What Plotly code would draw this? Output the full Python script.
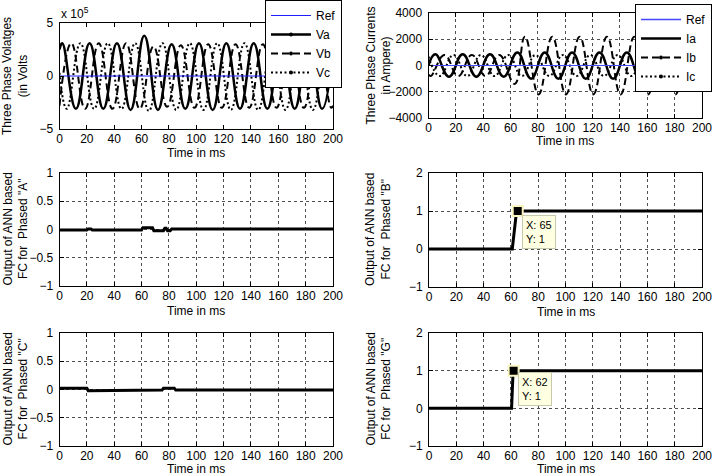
import plotly.graph_objects as go

W, H = 713, 475
FONT = "Liberation Sans, Arial, Helvetica, sans-serif"

# ---------------- data ----------------
TIME_TICKS = [0, 20, 40, 60, 80, 100, 120, 140, 160, 180, 200]
REF_T = [0, 200]
REF_V = [0, 0]

VOLT_SCALE = 1e5
# phase voltages: samples at the read peaks / troughs (ms, volts)
VA_T = [0, 2, 12, 22, 32, 42, 52, 62, 72, 82, 92, 102, 112, 122, 132, 142, 152, 162, 172, 182, 192, 200]
VA = [2.5e5, 3.1e5, -3.1e5, 3.1e5, -3.1e5, 3.1e5, -3.2e5, 3.8e5, -3.2e5, 3.0e5, -3.1e5, 3.1e5,
      -3.2e5, 3.1e5, -3.1e5, 3.1e5, -3.1e5, 3.1e5, -3.1e5, 3.1e5, -3.1e5, 2.5e5]
VB_T = [0, 8.7, 18.7, 28.7, 38.7, 48.7, 58.7, 68.7, 78.7, 88.7, 98.7, 108.7, 118.7, 128.7, 138.7,
        148.7, 158.7, 168.7, 178.7, 188.7, 198.7, 200]
VB = [-2.8e5, 3.1e5, -3.1e5, 3.1e5, -3.1e5, 3.1e5, -3.1e5, 2.8e5, -2.9e5, 2.9e5, -3.0e5, 3.0e5,
      -3.0e5, 3.0e5, -3.0e5, 3.0e5, -3.0e5, 3.0e5, -3.0e5, 3.0e5, -3.0e5, -2.8e5]
VC_T = [0, 5.3, 15.3, 25.3, 35.3, 45.3, 55.3, 65.3, 75.3, 85.3, 95.3, 105.3, 115.3, 125.3, 135.3,
        145.3, 155.3, 165.3, 175.3, 185.3, 195.3, 200]
VC = [0.3e5, -3.1e5, 3.1e5, -3.1e5, 3.1e5, -3.1e5, 3.1e5, -3.3e5, 3.1e5, -3.2e5, 3.1e5, -3.2e5,
      3.1e5, -3.2e5, 3.1e5, -3.2e5, 3.1e5, -3.2e5, 3.1e5, -3.2e5, 3.1e5, 0.3e5]

# phase currents (ms, ampere)
IA_T = [0, 5, 15, 25, 35, 45, 55, 65, 75, 85, 95, 105, 115, 125, 135, 145, 155, 165, 175, 185, 195, 200]
IA = [0, 850, -850, 850, -850, 850, -850, 1000, -1000, 1000, -1000, 1000, -1000, 1000, -1000,
      1000, -1000, 1000, -1000, 1000, -1000, 0]
IB_T = [0, 1.7, 11.7, 21.7, 31.7, 41.7, 51.7, 63, 70.5, 80.5, 90.5, 100.5, 110.5, 120.5, 130.5,
        140.5, 150.5, 160.5, 170.5, 180.5, 190.5, 200]
IB = [-690, -800, 800, -800, 800, -800, 800, -1400, 2200, -2200, 2200, -2200, 2200, -2200, 2200,
      -2200, 2200, -2200, 2200, -2200, 2200, -2150]
IC_T = [0, 8.3, 18.3, 28.3, 38.3, 48.3, 58.3, 68.3, 78.3, 88.3, 98.3, 108.3, 118.3, 128.3, 138.3,
        148.3, 158.3, 168.3, 178.3, 188.3, 198.3, 200]
IC = [690, -800, 800, -800, 800, -800, 800, -800, 800, -800, 800, -800, 800, -800, 800,
      -800, 800, -800, 800, -800, 800, 690]

# ANN fault-classifier outputs
FA_T = [0, 20, 21, 23, 24, 60, 61, 68, 69, 76, 77, 78, 79, 81, 82, 200]
FA = [-0.01, -0.01, 0.01, 0.01, -0.01, -0.01, 0.03, 0.03, -0.02, -0.02, 0.02, 0.02, -0.02, -0.02, 0.01, 0.01]
FB_T = [0, 61, 64, 65, 200]
FB = [0, 0, 0.95, 1, 1]
FC_T = [0, 20, 21, 23, 24, 75, 76, 84, 85, 200]
FC = [0.02, 0.02, -0.02, -0.02, -0.01, -0.01, 0.02, 0.02, -0.01, -0.01]
FG_T = [0, 60.5, 61.5, 62, 200]
FG = [0, 0, 0.9, 1, 1]

TIP_B = (65, 1)
TIP_G = (62, 1)

# ---------------- layout helpers ----------------
def px_x(p):
    return p / W

def px_y(p):
    return 1 - p / H

PANELS = {
    # name: (x0, x1, ytop, ybottom) in pixels
    "tl": (59.5, 333, 23, 129),
    "tr": (428.5, 702, 13, 118),
    "ml": (59.5, 333, 173, 286),
    "mr": (429, 702, 173, 287),
    "bl": (59.5, 333, 333, 446),
    "br": (429, 702, 333, 446),
}
ORDER = ["tl", "tr", "ml", "mr", "bl", "br"]
YRANGE = {"tl": [-5, 5], "tr": [-4000, 4000], "ml": [-1, 1], "mr": [-1, 2], "bl": [-1, 1], "br": [-1, 2]}
YTICKS = {"tl": [-5, 0, 5], "tr": [-4000, -2000, 0, 2000, 4000], "ml": [-1, -0.5, 0, 0.5, 1],
          "mr": [-1, 0, 1, 2], "bl": [-1, -0.5, 0, 0.5, 1], "br": [-1, 0, 1, 2]}
GRID = {"tl": False, "tr": True, "ml": True, "mr": True, "bl": True, "br": True}

fig = go.Figure()
layout = dict(width=W, height=H, margin=dict(l=0, r=0, t=0, b=0, autoexpand=False), autosize=False,
              paper_bgcolor="white", plot_bgcolor="white",
              font=dict(family=FONT, size=12, color="black"), showlegend=True)

axis_common = dict(showline=True, linecolor="black", linewidth=1, mirror="ticks",
                   ticks="inside", ticklen=4, tickcolor="black", zeroline=False,
                   tickfont=dict(family=FONT, size=12, color="black"),
                   gridcolor="rgb(80,80,80)", griddash="dot", gridwidth=1)

for i, name in enumerate(ORDER):
    k = "" if i == 0 else str(i + 1)
    x0, x1, yt, yb = PANELS[name]
    layout["xaxis" + k] = dict(axis_common, domain=[px_x(x0), px_x(x1)], range=[0, 200],
                               tickvals=TIME_TICKS, anchor="y" + k, showgrid=GRID[name],
                               ticklabelstandoff=-1)
    layout["yaxis" + k] = dict(axis_common, domain=[px_y(yb), px_y(yt)], range=YRANGE[name],
                               tickvals=YTICKS[name], anchor="x" + k, showgrid=GRID[name],
                               ticklabelstandoff=3)

AX = {name: ("x" if i == 0 else "x" + str(i + 1), "y" if i == 0 else "y" + str(i + 1))
      for i, name in enumerate(ORDER)}

REF_BLUE = "rgb(70,70,255)"
DASH = "7px,4px"
DOT = "2px,2.5px"

def add(name, t, v, **kw):
    xa, ya = AX[name]
    fig.add_trace(go.Scatter(x=t, y=v, xaxis=xa, yaxis=ya, mode="lines", showlegend=False,
                             hoverinfo="skip", **kw))

# voltages
add("tl", VA_T, [v / VOLT_SCALE for v in VA], line=dict(color="black", width=2.5, shape="spline", smoothing=1.3))
add("tl", VB_T, [v / VOLT_SCALE for v in VB], line=dict(color="black", width=2, dash=DASH, shape="spline", smoothing=1.3))
add("tl", VC_T, [v / VOLT_SCALE for v in VC], line=dict(color="black", width=2, dash=DOT, shape="spline", smoothing=1.3))
add("tl", REF_T, REF_V, line=dict(color="rgb(30,30,255)", width=1))

# currents
add("tr", IA_T, IA, line=dict(color="black", width=2.5, shape="spline", smoothing=1.3))
add("tr", IB_T, IB, line=dict(color="black", width=2, dash=DASH, shape="spline", smoothing=1.3))
add("tr", IC_T, IC, line=dict(color="black", width=2, dash=DOT, shape="spline", smoothing=1.3))
add("tr", REF_T, REF_V, line=dict(color=REF_BLUE, width=1))

# ANN outputs
add("ml", FA_T, FA, line=dict(color="black", width=3))
add("mr", FB_T, FB, line=dict(color="black", width=3))
add("bl", FC_T, FC, line=dict(color="black", width=3))
add("br", FG_T, FG, line=dict(color="black", width=3))

# data tips markers
for name, tip in (("mr", TIP_B), ("br", TIP_G)):
    xa, ya = AX[name]
    fig.add_trace(go.Scatter(x=[tip[0]], y=[tip[1]], xaxis=xa, yaxis=ya, mode="markers",
                             showlegend=False, hoverinfo="skip",
                             marker=dict(symbol="square", size=10, color="black",
                                         line=dict(color="rgb(250,245,190)", width=2))))

# legend proxies
def proxy(legend, label, color, width, dash=None, marker=True):
    fig.add_trace(go.Scatter(x=[None], y=[None], name=label, legend=legend,
                             mode="lines+markers" if marker else "lines",
                             line=dict(color=color, width=width, dash=dash),
                             marker=dict(size=4, color=color, symbol="circle")))

proxy("legend", "Ref", "rgb(30,30,255)", 1, marker=False)
proxy("legend", "Va", "black", 2.5)
proxy("legend", "Vb", "black", 2, DASH)
proxy("legend", "Vc", "black", 2, DOT)
proxy("legend2", "Ref", REF_BLUE, 1.5, marker=False)
proxy("legend2", "Ia", "black", 2.5, marker=False)
proxy("legend2", "Ib", "black", 2, DASH)
proxy("legend2", "Ic", "black", 2, DOT)

leg_common = dict(bgcolor="white", bordercolor="black", borderwidth=1,
                  font=dict(family=FONT, size=12, color="black"),
                  xanchor="left", yanchor="top", itemwidth=40, tracegroupgap=0)
layout["legend"] = dict(leg_common, x=px_x(265), y=px_y(0))
layout["legend2"] = dict(leg_common, x=px_x(635), y=px_y(4))

annotations = []
# y-axis titles
YLAB = {
    "tl": "Three Phase Volatges<br>(in Volts",
    "tr": "Three Phase Currents<br>in Ampere)",
    "ml": "Output of ANN based<br>FC for  Phased \"A\"",
    "mr": "Output of ANN based<br>FC for  Phased \"B\"",
    "bl": "Output of ANN based<br>FC for  Phased \"C\"",
    "br": "Output of ANN based<br>FC for  Phased \"G\"",
}
XLAB_Y = {"tl": 153, "tr": 141, "ml": 311, "mr": 312, "bl": 469, "br": 469}
for name in ORDER:
    x0, x1, yt, yb = PANELS[name]
    lx = 15 if x0 < 200 else 378
    annotations.append(dict(text=YLAB[name], x=px_x(lx), y=px_y((yt + yb) / 2), xref="paper",
                            yref="paper", xanchor="center", yanchor="middle", textangle=-90,
                            showarrow=False, font=dict(family=FONT, size=12)))
    annotations.append(dict(text="Time in ms", x=px_x((x0 + x1) / 2), y=px_y(XLAB_Y[name]),
                            xref="paper", yref="paper", xanchor="center", yanchor="middle",
                            showarrow=False, font=dict(family=FONT, size=12)))

annotations.append(dict(text="x 10<sup>5</sup>", x=px_x(59), y=px_y(13), xref="paper", yref="paper",
                        xanchor="left", yanchor="middle", showarrow=False,
                        font=dict(family=FONT, size=12)))

# data tip boxes
TIP_BOX = {"mr": (TIP_B, 68.3, 0.9), "br": (TIP_G, 65.5, 0.97)}
for name, (tip, bx, by) in TIP_BOX.items():
    xa, ya = AX[name]
    annotations.append(dict(text="X: %d<br>Y: %d" % tip, x=bx, y=by, xref=xa, yref=ya,
                            xanchor="left", yanchor="top", align="left", showarrow=False,
                            bgcolor="rgb(255,255,225)", bordercolor="rgb(200,200,170)",
                            borderwidth=1, borderpad=3, font=dict(family=FONT, size=11)))

layout["annotations"] = annotations
fig.update_layout(**layout)
fig.write_html("out.html", config={"responsive": False, "displayModeBar": False},
               post_script="document.body.style.margin='0';document.body.style.overflow='hidden';")
